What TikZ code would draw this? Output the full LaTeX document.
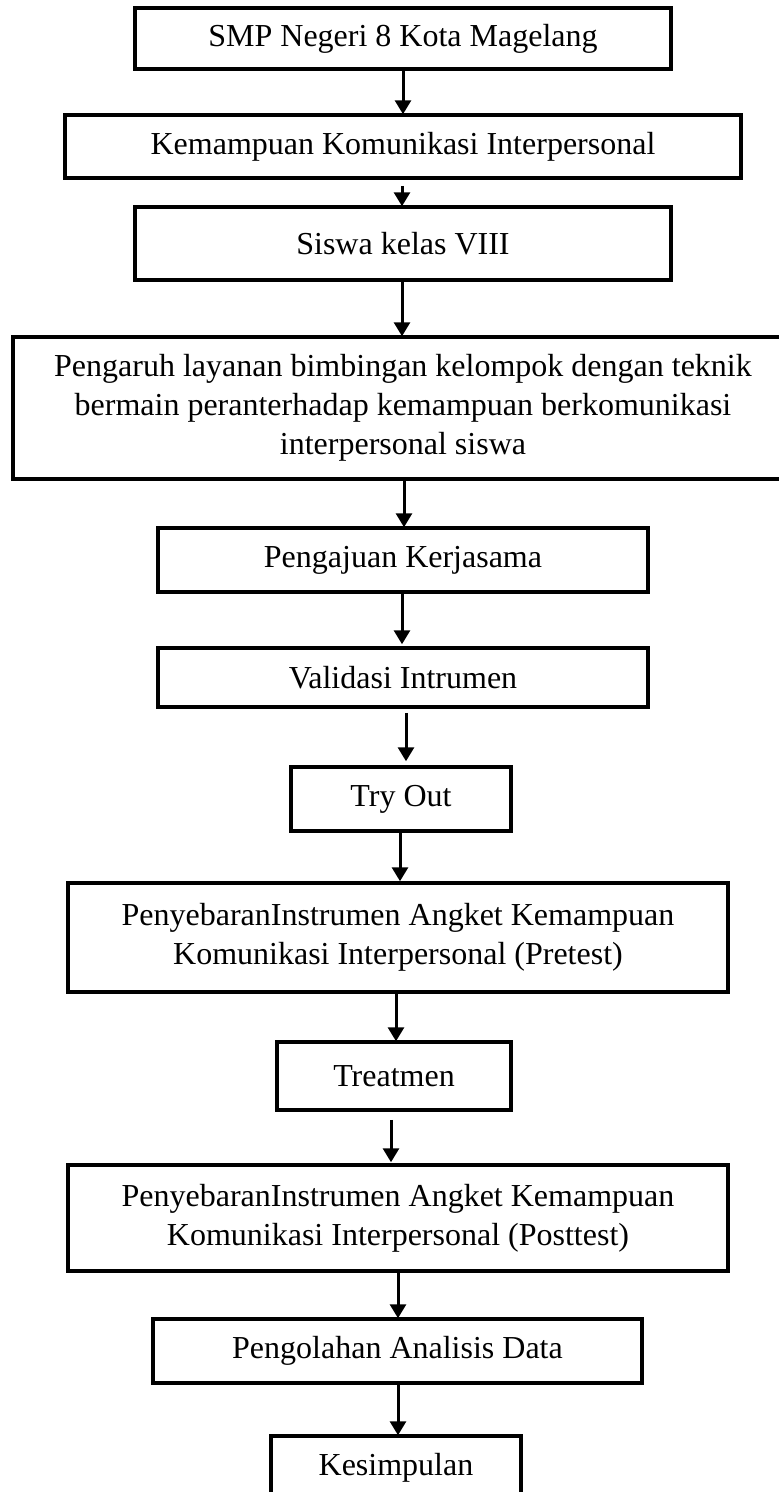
\documentclass[tikz,border=0pt]{standalone}
\usepackage{fontspec}
\setmainfont{Liberation Serif}
\usetikzlibrary{arrows.meta,calc}
\begin{document}
\begin{tikzpicture}[x=1pt,y=-1pt,
  box/.style={draw=black,line width=3.5pt,inner sep=0pt,align=center,
    font=\fontsize{32}{39}\selectfont},
  arr/.style={line width=3pt,-{Triangle[width=16pt,length=14pt]}}]
\useasboundingbox (0,0) rectangle (779,1492);
\fill[white] (0,0) rectangle (779,1492);
\node[box,minimum width=536pt,minimum height=61pt] (b1) at (403,38.5) {SMP Negeri 8 Kota Magelang};
\node[box,minimum width=676pt,minimum height=63pt] (b2) at (403,146.5) {Kemampuan Komunikasi Interpersonal};
\node[box,minimum width=536pt,minimum height=73pt] (b3) at (403,243.5) {Siswa kelas VIII};
\node[box,minimum width=780pt,minimum height=142pt] (b4) at (403,408) {Pengaruh layanan bimbingan kelompok dengan teknik\\bermain peranterhadap kemampuan berkomunikasi\\interpersonal siswa};
\node[box,minimum width=490pt,minimum height=64pt] (b5) at (403,560) {Pengajuan Kerjasama};
\node[box,minimum width=490pt,minimum height=59pt] (b6) at (403,677.5) {Validasi Intrumen};
\node[box,minimum width=220pt,minimum height=64pt] (b7) at (401,799) {Try Out};
\node[box,minimum width=660pt,minimum height=109pt] (b8) at (398,937.5) {PenyebaranInstrumen Angket Kemampuan\\Komunikasi Interpersonal (Pretest)};
\node[box,minimum width=234pt,minimum height=68pt] (b9) at (394,1076) {Treatmen};
\node[box,minimum width=660pt,minimum height=106pt] (b10) at (398,1218) {PenyebaranInstrumen Angket Kemampuan\\Komunikasi Interpersonal (Posttest)};
\node[box,minimum width=489pt,minimum height=64pt] (b11) at (397.5,1351) {Pengolahan Analisis Data};
\node[box,minimum width=250pt,minimum height=64pt] (b12) at (396,1468) {Kesimpulan};
\draw[arr] ($(b1.south)+(0,-1)$) -- ($(b2.north)+(0,1)$);
\draw[arr] ($(b2.south)+(-1,6)$) -- ($(b3.north)+(-1,1)$);
\draw[arr] ($(b3.south)+(-1,0)$) -- ($(b4.north)+(-1,1)$);
\draw[arr] ($(b4.south)+(1,0)$) -- ($(b5.north)+(1,1)$);
\draw[arr] ($(b5.south)+(-1,0)$) -- ($(b6.north)+(-1,-2)$);
\draw[arr] ($(b6.south)+(3,4)$) -- ($(b7.north -| b6.south)+(3,-4)$);
\draw[arr] ($(b7.south)+(-1,0)$) -- ($(b8.north -| b7.south)+(-1,0)$);
\draw[arr] ($(b8.south)+(-2,-2)$) -- ($(b9.north -| b8.south)+(-2,1)$);
\draw[arr] ($(b9.south)+(-3,8)$) -- ($(b10.north -| b9.south)+(-3,-1)$);
\draw[arr] (b10.south) -- ($(b11.north -| b10.south)+(0,1)$);
\draw[arr] ($(b11.south)+(0.5,0)$) -- ($(b12.north -| b11.south)+(0.5,1)$);
\end{tikzpicture}
\end{document}
